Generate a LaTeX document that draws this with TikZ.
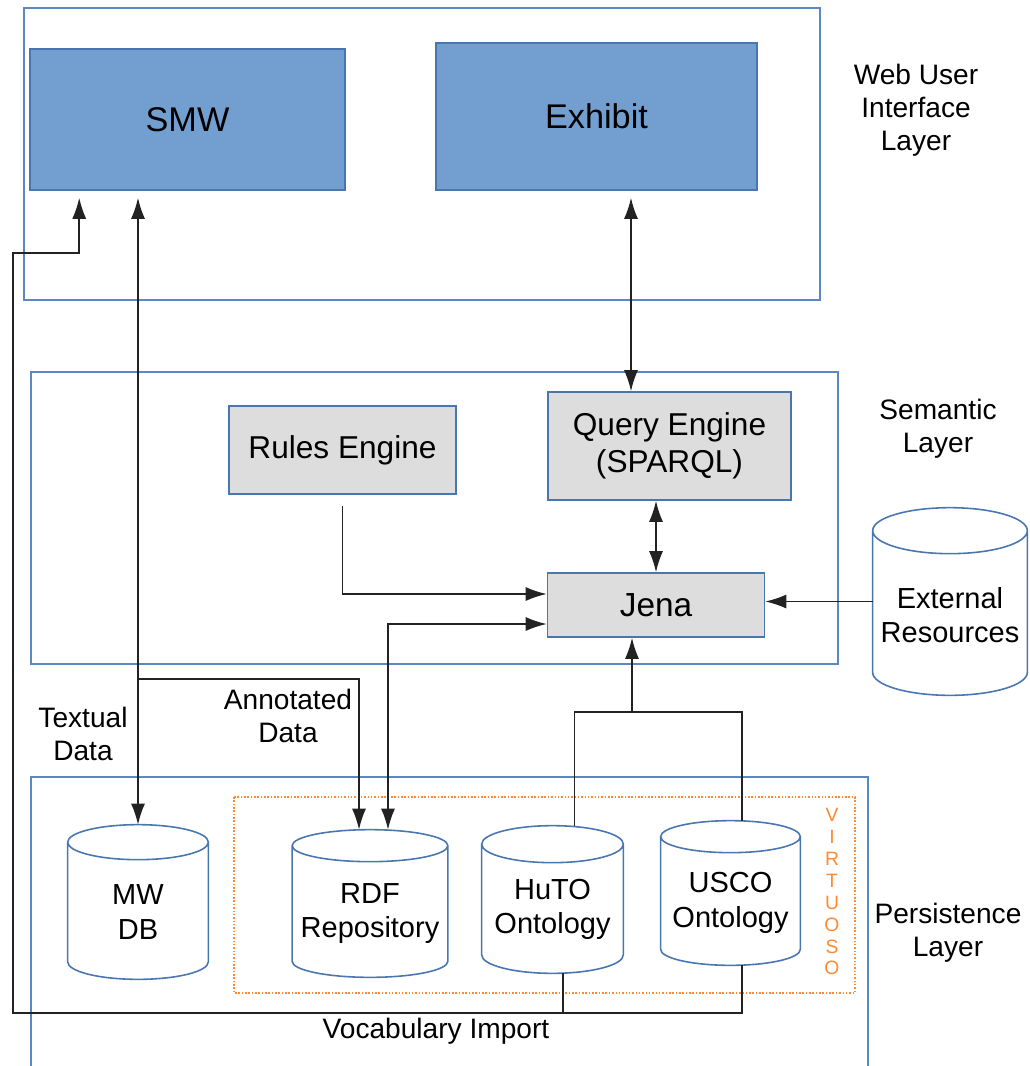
\documentclass[tikz,border=0pt]{standalone}
\usepackage{fontspec}
\setmainfont{Liberation Sans}
\usetikzlibrary{arrows.meta,calc}
\definecolor{boxblue}{HTML}{729FCF}
\definecolor{boxgray}{HTML}{DDDDDD}
\definecolor{edgeblue}{HTML}{4A76B0}
\definecolor{layerblue}{HTML}{5B87C5}
\definecolor{virtorange}{HTML}{FF8A33}
\definecolor{linedark}{HTML}{222222}

% cylinder outline round a named node: name, radius of the end ellipses
\newcommand\dbcyl[2]{%
  \draw[dbline] let \p1=(#1.north west), \p2=(#1.south east), \n1={(\x2-\x1)/2} in
    (\x1,\y1-#2) -- (\x1,\y2+#2)
    arc[start angle=180,end angle=360,x radius=\n1*1pt,y radius=#2]
    -- (\x2,\y1-#2)
    arc[start angle=0,end angle=360,x radius=\n1*1pt,y radius=#2];
}

\begin{document}
\begin{tikzpicture}[x=0.02cm,y=-0.02cm,
  layer/.style={draw=layerblue,line width=0.9pt},
  uibox/.style={draw=edgeblue,fill=boxblue,line width=0.9pt,inner sep=0pt,font=\fontsize{19.5}{23}\selectfont},
  engbox/.style={draw=edgeblue,fill=boxgray,line width=0.9pt,inner sep=0pt,align=center,font=\fontsize{18}{21}\selectfont},
  db/.style={rectangle,inner sep=0pt},
  dbline/.style={draw=edgeblue,line width=0.9pt},
  dbtext/.style={align=center,yshift=-0.2cm,font=\fontsize{16.5}{19.5}\selectfont},
  lbl/.style={align=center,font=\fontsize{16}{18.7}\selectfont},
  virt/.style={text=virtorange,inner sep=0pt,font=\fontsize{11}{13}\selectfont},
  link/.style={draw=linedark,line width=0.9pt},
  arr/.style={link,-{Latex[length=12pt,width=8pt]}},
  biarr/.style={link,{Latex[length=12pt,width=8pt]}-{Latex[length=12pt,width=8pt]}}]
\useasboundingbox (0,0) rectangle (1029,1066);

% layers
\draw[layer] (24,8) rectangle (820,300);
\draw[layer] (31,372) rectangle (838,664);
\draw[layer] (31,1075) -- (31,777) -- (868,777) -- (868,1075);
\draw[virtorange,densely dotted,line width=0.9pt] (234,797) rectangle (855,993);

% web user interface
\node[uibox,minimum width=6.3cm,minimum height=2.82cm] (smw) at (187.5,119.5) {SMW};
\node[uibox,minimum width=6.42cm,minimum height=2.94cm] (exhibit) at (596.5,116.5) {Exhibit};

% semantic
\node[engbox,minimum width=4.54cm,minimum height=1.76cm] (rules) at (342.5,450) {Rules Engine};
\node[engbox,minimum width=4.86cm,minimum height=2.16cm] (query) at (669.5,446) {Query Engine\\(SPARQL)};
\node[engbox,minimum width=4.34cm,minimum height=1.28cm,font=\fontsize{19}{21}\selectfont] (jena) at (656,605) {Jena};
\node[db,minimum width=3.08cm,minimum height=3.74cm,label={[dbtext,yshift=-0.07cm]center:External\\Resources}] (extres) at (950,601.5) {};

% persistence
\node[db,minimum width=2.8cm,minimum height=3.08cm,label={[dbtext]center:MW\\DB}] (mwdb) at (138,902) {};
\node[db,minimum width=3.1cm,minimum height=2.94cm,label={[dbtext]center:RDF\\Repository}] (rdf) at (370,903.5) {};
\node[db,minimum width=2.82cm,minimum height=2.94cm,label={[dbtext]center:HuTO\\Ontology}] (huto) at (552.5,899.5) {};
\node[db,minimum width=2.78cm,minimum height=2.88cm,label={[dbtext]center:USCO\\Ontology}] (usco) at (730.5,893) {};
\dbcyl{extres}{0.46cm}
\dbcyl{mwdb}{0.35cm}
\dbcyl{rdf}{0.32cm}
\dbcyl{huto}{0.37cm}
\dbcyl{usco}{0.32cm}
\foreach \ch [count=\i] in {V,I,R,T,U,O,S,O}
  \node[virt] (v\i) at (832,{815+(\i-1)*21.9}) {\ch};

% layer labels
\node[lbl] (uilbl) at (916,110) {Web User\\Interface\\Layer};
\node[lbl] (semlbl) at (938,429) {Semantic\\Layer};
\node[lbl] (perslbl) at (948,933) {Persistence\\Layer};
\node[lbl] (textlbl) at (83,734) {Textual\\Data};
\node[lbl] (annlbl) at (288,716) {Annotated\\Data};
\node[lbl] (voclbl) at (436,1031) {Vocabulary Import};

% connectors
\coordinate (vocL) at (13,1013);
\coordinate (vocT) at (13,253);
\coordinate (annot) at (138,679);
\coordinate (ontjoin) at (632,712);

\draw[biarr,shorten >=0.14cm] (mwdb.north) -- (mwdb.north |- smw.south);
\draw[arr] (annot) -| ([xshift=-0.22cm]rdf.north);
\draw[biarr] ([xshift=0.36cm]rdf.north) |- ([yshift=-0.38cm]jena.west);
\draw[arr] ([yshift=-0.22cm]rules.south) |- ([yshift=0.22cm]jena.west);
\draw[biarr] (jena.north) -- (jena.north |- query.south);
\draw[biarr,shorten <=0.14cm] ([xshift=0.69cm]exhibit.south) -- ([xshift=0.69cm]exhibit.south |- query.north);
\draw[arr] (extres.west) -- (extres.west -| jena.east);
\draw[link] ([xshift=0.44cm]huto.north) |- (ontjoin) -| ([xshift=0.23cm]usco.north);
\draw[arr] (ontjoin) -- (ontjoin |- jena.south);
\draw[arr,shorten >=0.14cm] ([xshift=0.23cm]usco.south) |- (vocL) -- (vocT) -| ([xshift=1cm]smw.south west);
\draw[link] ([xshift=0.21cm]huto.south) -- ([xshift=0.21cm]huto.south |- vocL);
\end{tikzpicture}
\end{document}
